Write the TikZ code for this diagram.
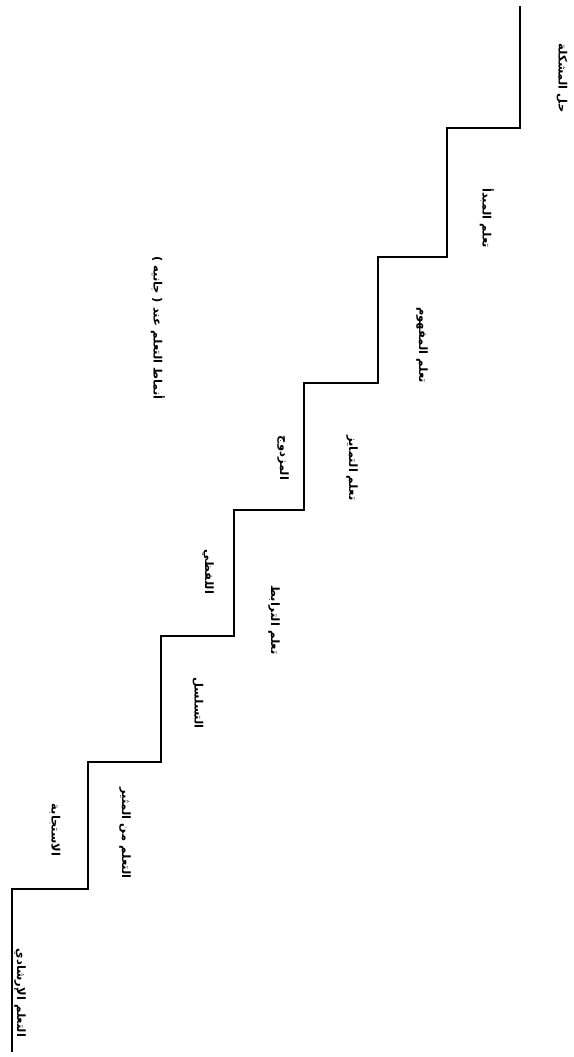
\documentclass[tikz,border=0pt]{standalone}
\usepackage{fontspec}
\newfontfamily\arabicfont[Script=Arabic]{DejaVu Sans}
\TeXXeTstate=1
\begin{document}
\begin{tikzpicture}[x=1pt,y=-1pt,
  lab/.style={rotate=-90, font=\arabicfont\bfseries\fontsize{11.5}{13}\selectfont, inner sep=0pt},
  stair/.style={line width=1.2pt, line join=miter}]
\useasboundingbox (0,0) rectangle (573,1057);
% staircase corner points
\coordinate (s0) at (520,6);
\coordinate (s1) at (520,128);
\coordinate (s2) at (447,128);
\coordinate (s3) at (447,257);
\coordinate (s4) at (378,257);
\coordinate (s5) at (378,383);
\coordinate (s6) at (304,383);
\coordinate (s7) at (304,510);
\coordinate (s8) at (234,510);
\coordinate (s9) at (234,636);
\coordinate (s10) at (161,636);
\coordinate (s11) at (161,762);
\coordinate (s12) at (88,762);
\coordinate (s13) at (88,889);
\coordinate (s14) at (12,889);
\coordinate (s15) at (12,1052);
\draw[stair] (s0) -- (s1) -- (s2) -- (s3) -- (s4) -- (s5) -- (s6) -- (s7) -- (s8) -- (s9) -- (s10) -- (s11) -- (s12) -- (s13) -- (s14) -- (s15);
% labels
\node[lab] (l8) at (562,78) {\beginR حل المشكلة\endR};
\node[lab] (l7) at (487,218) {\beginR تعلم المبدأ\endR};
\node[lab] (l6) at (422,345) {\beginR تعلم المفهوم\endR};
\node[lab] (l5) at (352,468) {\beginR تعلم التمايز\endR};
\node[lab] (l5b) at (283,458) {\beginR المزدوج\endR};
\node[lab] (l4) at (274,620) {\beginR تعلم الترابط\endR};
\node[lab] (l4b) at (208,572) {\beginR اللفظي\endR};
\node[lab] (l3) at (198,703) {\beginR التسلسل\endR};
\node[lab] (l2) at (125,833) {\beginR التعلم من المثير\endR};
\node[lab] (l2b) at (55,830) {\beginR الاستجابة\endR};
\node[lab] (l1) at (20,993) {\beginR التعلم الإرشادي\endR};
\node[lab] (title) at (158,328) {\beginR أنماط التعلم عند ( جانيه )\endR};
\end{tikzpicture}
\end{document}
